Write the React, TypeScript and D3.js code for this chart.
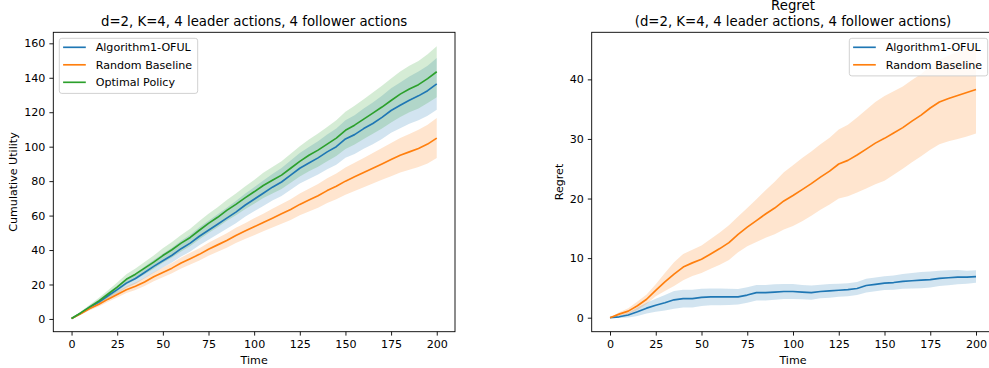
import { useRef, useEffect } from "react";
import * as d3 from "d3";

// time grid the values were read at
const steps = [0, 5, 10, 15, 20, 25, 30, 35, 40, 45, 50, 55, 60, 65, 70, 75, 80, 85, 90, 95, 100,
  105, 110, 115, 120, 125, 130, 135, 140, 145, 150, 155, 160, 165, 170, 175, 180, 185, 190, 195, 200];

// left panel: cumulative utility (mean, std)
const utilOful = [0.3, 3.3, 6.8, 9.8, 13.5, 17, 20.8, 23.5, 27, 30.5, 33.8, 37, 40.8, 44, 48, 51.5, 55, 58.5, 62, 66, 69.5,
  73, 76.5, 79.5, 83.5, 87.5, 90.5, 93.5, 97, 100, 104.5, 107, 110.5, 113.5, 117, 121, 124, 127, 129.5, 132.5, 136.5];
const utilOfulStd = [0.1, 0.6, 1.1, 1.5, 1.9, 2.3, 2.7, 3.0, 3.4, 3.7, 4.0, 4.3, 4.6, 4.9, 5.2, 5.5, 5.8, 6.1, 6.4, 6.7, 7.0,
  7.4, 7.7, 8.1, 8.5, 8.9, 9.3, 9.7, 10.1, 10.5, 10.9, 11.3, 11.7, 12.1, 12.5, 12.9, 13.3, 13.7, 14.1, 14.5, 15.0];
const utilRandom = [0.2, 3, 6, 8.5, 11.5, 14.2, 17, 19, 21.5, 24.5, 27, 29.5, 32.5, 35, 37.5, 40.5, 43, 45.5, 48.5, 51, 53.5,
  56, 58.5, 61, 63.5, 66.5, 69, 71.5, 74.5, 77, 80, 82.5, 85, 87.5, 90, 92.5, 95, 97, 99, 101.5, 105];
const utilRandomStd = [0.1, 0.5, 0.9, 1.2, 1.5, 1.8, 2.0, 2.2, 2.4, 2.6, 2.8, 3.0, 3.2, 3.4, 3.6, 3.8, 4.0, 4.2, 4.4, 4.6, 4.9,
  5.1, 5.4, 5.7, 6.0, 6.3, 6.6, 6.9, 7.2, 7.5, 7.9, 8.2, 8.5, 8.8, 9.2, 9.6, 10.0, 10.4, 10.8, 11.2, 11.6];
const utilOptimal = [0.3, 3.5, 7, 10.5, 14.5, 18.5, 23, 26, 29.5, 33, 36.8, 40.2, 44, 47.3, 51.5, 55.5, 59, 63, 66.5, 70.3, 73.8,
  77.5, 80.5, 83.5, 87.5, 91.5, 95, 98, 101.5, 105, 109.5, 112.5, 116, 119.5, 123, 126.8, 130.5, 133.5, 136, 139.5, 143.5];
const utilOptimalStd = [0.1, 0.8, 1.3, 1.8, 2.2, 2.6, 3, 3.3, 3.6, 3.9, 4.2, 4.5, 4.8, 5, 5.3, 5.6, 5.8, 6, 6.3, 6.6, 6.9,
  7.3, 7.7, 8, 8.4, 8.8, 9.2, 9.6, 10, 10.4, 10.8, 11.2, 11.6, 12, 12.4, 12.8, 13.2, 13.5, 13.8, 14.2, 14.8];

// right panel: regret (mean, std)
const regretOful = [0, 0.15, 0.45, 1.0, 1.6, 2.1, 2.5, 3.0, 3.2, 3.2, 3.4, 3.5, 3.5, 3.5, 3.5, 3.8, 4.2, 4.2, 4.3, 4.4, 4.4,
  4.3, 4.2, 4.4, 4.5, 4.6, 4.7, 4.9, 5.4, 5.6, 5.8, 5.9, 6.1, 6.2, 6.3, 6.4, 6.6, 6.7, 6.8, 6.8, 6.9];
const regretOfulStd = [0, 0.2, 0.4, 0.7, 0.9, 1.1, 1.3, 1.5, 1.5, 1.5, 1.45, 1.4, 1.4, 1.35, 1.3, 1.3, 1.3, 1.3, 1.3, 1.25, 1.25,
  1.2, 1.2, 1.15, 1.15, 1.1, 1.1, 1.1, 1.15, 1.15, 1.15, 1.2, 1.25, 1.3, 1.35, 1.35, 1.3, 1.25, 1.2, 1.1, 1.05];
const regretRandom = [0, 0.6, 1.1, 2.0, 3.1, 4.6, 6.0, 7.3, 8.5, 9.2, 9.8, 10.7, 11.6, 12.6, 14.0, 15.2, 16.3, 17.4, 18.4, 19.6, 20.5,
  21.5, 22.5, 23.6, 24.6, 25.8, 26.4, 27.3, 28.3, 29.3, 30.1, 31.0, 31.9, 33.0, 34.0, 35.2, 36.2, 36.8, 37.3, 37.8, 38.3];
const regretRandomStd = [0, 0.3, 0.5, 0.7, 0.8, 1.0, 1.5, 2.0, 2.2, 2.2, 2.3, 2.5, 2.7, 2.9, 3.0, 3.2, 3.6, 4.0, 4.4, 4.8, 5.1,
  5.3, 5.4, 5.5, 5.6, 5.8, 6.0, 6.3, 6.6, 6.9, 7.1, 7.0, 6.9, 6.9, 6.9, 7.0, 7.1, 7.2, 7.3, 7.4, 7.4];

const timeTicks = [0, 25, 50, 75, 100, 125, 150, 175, 200];
const utilTicks = [0, 20, 40, 60, 80, 100, 120, 140, 160];
const regretTicks = [0, 10, 20, 30, 40];

const BLUE = "#1f77b4";
const ORANGE = "#ff7f0e";
const GREEN = "#2ca02c";
const FONT = "'DejaVu Sans', sans-serif";
const FS = 11.1;

function drawPanel(svg, cfg) {
  const { x0, x1, y0, y1 } = cfg;
  const x = d3.scaleLinear().domain([-10, 210]).range([x0, x1]);
  const y = d3.scaleLinear().domain(cfg.yDomain).range([y1, y0]);
  const g = svg.append("g");

  // bands first, then lines
  cfg.series.forEach((s) => {
    const area = d3
      .area()
      .x((d, i) => x(steps[i]))
      .y0((d, i) => y(s.mean[i] - s.std[i]))
      .y1((d, i) => y(s.mean[i] + s.std[i]));
    g.append("path").attr("d", area(s.mean)).attr("fill", s.color).attr("fill-opacity", 0.2);
  });
  cfg.series.forEach((s) => {
    const line = d3
      .line()
      .x((d, i) => x(steps[i]))
      .y((d) => y(d));
    g.append("path")
      .attr("d", line(s.mean))
      .attr("fill", "none")
      .attr("stroke", s.color)
      .attr("stroke-width", 1.67)
      .attr("stroke-linejoin", "round");
  });

  // axes
  const xAxis = d3.axisBottom(x).tickValues(timeTicks).tickSize(3.9).tickPadding(4.5);
  const yAxis = d3.axisLeft(y).tickValues(cfg.yTicks).tickSize(3.9).tickPadding(4);
  const gx = g.append("g").attr("transform", `translate(0, ${y1})`).call(xAxis);
  const gy = g.append("g").attr("transform", `translate(${x0}, 0)`).call(yAxis);
  [gx, gy].forEach((a) => {
    a.select(".domain").remove();
    a.attr("font-family", FONT).attr("font-size", FS);
    a.selectAll("line").attr("stroke", "#000").attr("stroke-width", 0.9);
    a.selectAll("text").attr("fill", "#000");
  });

  // frame
  g.append("rect")
    .attr("x", x0).attr("y", y0)
    .attr("width", x1 - x0).attr("height", y1 - y0)
    .attr("fill", "none").attr("stroke", "#000").attr("stroke-width", 0.9);

  // labels
  const cx = (x0 + x1) / 2;
  g.append("text")
    .attr("x", cx).attr("y", y1 + 32.5)
    .attr("text-anchor", "middle")
    .attr("font-family", FONT).attr("font-size", FS)
    .text("Time");
  g.append("text")
    .attr("transform", `translate(${cfg.yLabelX}, ${(y0 + y1) / 2}) rotate(-90)`)
    .attr("text-anchor", "middle")
    .attr("font-family", FONT).attr("font-size", FS)
    .text(cfg.yLabel);
  cfg.title.forEach((t, i) => {
    g.append("text")
      .attr("x", cx).attr("y", cfg.titleY[i])
      .attr("text-anchor", "middle")
      .attr("font-family", FONT).attr("font-size", 13.3)
      .text(t);
  });

  // legend
  const lg = cfg.legend;
  const leg = g.append("g");
  leg.append("rect")
    .attr("x", lg.x).attr("y", lg.y)
    .attr("width", lg.w).attr("height", 17.5 * cfg.series.length + 2.6)
    .attr("rx", 2.5)
    .attr("fill", "#fff").attr("fill-opacity", 0.8)
    .attr("stroke", "#cccccc").attr("stroke-width", 0.9);
  cfg.series.forEach((s, i) => {
    const ry = lg.y + 9 + i * 17.5;
    leg.append("line")
      .attr("x1", lg.x + 3.8).attr("x2", lg.x + 26.5)
      .attr("y1", ry).attr("y2", ry)
      .attr("stroke", s.color).attr("stroke-width", 1.67);
    leg.append("text")
      .attr("x", lg.x + 36.4).attr("y", ry).attr("dy", "0.36em")
      .attr("font-family", FONT).attr("font-size", FS)
      .text(s.name);
  });
}

function App() {
  const svgRef = useRef(null);

  useEffect(() => {
    const svg = d3.select(svgRef.current);
    svg.selectAll("*").remove();

    drawPanel(svg, {
      x0: 53.3, x1: 455, y0: 32.3, y1: 331.7,
      yDomain: [-7.4, 166.4],
      yTicks: utilTicks,
      yLabel: "Cumulative Utility",
      yLabelX: 17.4,
      title: ["d=2, K=4, 4 leader actions, 4 follower actions"],
      titleY: [25.5],
      series: [
        { name: "Algorithm1-OFUL", mean: utilOful, std: utilOfulStd, color: BLUE },
        { name: "Random Baseline", mean: utilRandom, std: utilRandomStd, color: ORANGE },
        { name: "Optimal Policy", mean: utilOptimal, std: utilOptimalStd, color: GREEN },
      ],
      legend: { x: 59.3, y: 38.3, w: 138.4 },
    });

    drawPanel(svg, {
      x0: 591.7, x1: 994.3, y0: 32.3, y1: 331.7,
      yDomain: [-2.35, 47.9],
      yTicks: regretTicks,
      yLabel: "Regret",
      yLabelX: 562.5,
      title: ["Regret", "(d=2, K=4, 4 leader actions, 4 follower actions)"],
      titleY: [9.8, 25.5],
      series: [
        { name: "Algorithm1-OFUL", mean: regretOful, std: regretOfulStd, color: BLUE },
        { name: "Random Baseline", mean: regretRandom, std: regretRandomStd, color: ORANGE },
      ],
      legend: { x: 849.3, y: 38.3, w: 138.4 },
    });
  }, []);

  return (
    <svg
      ref={svgRef}
      width={989}
      height={368}
      style={{ position: "absolute", left: 0, top: 0, background: "#fff" }}
    ></svg>
  );
}

export default App;
